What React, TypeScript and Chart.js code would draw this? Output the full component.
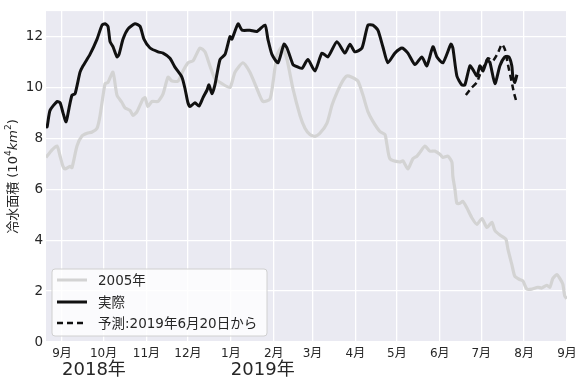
import React, { useEffect, useRef } from 'react';
import { Chart, registerables } from 'chart.js';

Chart.register(...registerables);

const FONT = "'DejaVu Sans', 'Noto Sans CJK JP', sans-serif";
const TEXT = '#262626';

// x values: days since 2018-09-01
const refDays = [-11.6,-7.2,-3.6,-1.4,0.7,2.2,5.8,7.2,10.8,14.5,18.1,21.7,25.3,27.5,31.1,33.2,36.8,39.7,43.4,45.5,49.1,51.3,54.2,58.5,60,62.1,65,69.4,73,76.6,79.5,83.8,87.4,91,94.7,99.7,103.3,106.9,110.5,115.6,121.4,125,130.8,135.8,140.9,145.2,150.3,152.5,155.3,159,162.6,166.9,172,175.6,179.2,182.8,186.4,191.5,195.1,198.7,203,205.9,209.5,213.9,217.5,221.1,224.7,229.8,233.4,234.8,237,244.2,246.4,250,253.6,256.5,258.7,262.3,265.9,269.5,273.1,275.3,278.9,281.8,282.5,284,285.4,287.6,289.7,292.6,296.2,299.9,303.5,307.1,310.7,312.9,316.5,320.8,322.3,325.1,327.3,330.9,333.1,336,339.6,343.9,346.8,350.4,352.6,354.8,357.7,359.8,362,363.4,364.9];
const refValues = [7.25,7.55,7.7,7.3,6.9,6.8,6.9,6.85,7.7,8.1,8.2,8.25,8.4,8.9,10.15,10.2,10.6,9.7,9.4,9.2,9.1,8.9,9.05,9.55,9.6,9.25,9.45,9.45,9.75,10.4,10.25,10.25,10.65,10.97,11.05,11.55,11.4,10.85,10.35,10.15,10.0,10.6,10.97,10.6,9.95,9.45,9.55,10.2,11.25,11.6,11.1,9.95,8.9,8.4,8.15,8.08,8.2,8.6,9.3,9.8,10.27,10.45,10.4,10.25,9.7,9.05,8.67,8.27,8.15,7.77,7.2,7.07,7.12,6.8,7.2,7.3,7.45,7.7,7.5,7.5,7.38,7.25,7.3,7.07,6.5,6.0,5.45,5.45,5.53,5.27,4.88,4.62,4.85,4.5,4.7,4.38,4.2,4.04,3.65,3.05,2.58,2.45,2.4,2.08,2.08,2.15,2.12,2.23,2.15,2.5,2.65,2.5,2.27,1.8,1.7];

const actualDays = [-11.6,-10.8,-8.7,-3.6,-1.4,0.7,2.9,5.1,7.2,9.4,13,15.2,20.2,25.3,28.9,31.1,33.2,34.7,36.8,39.7,41.2,44.1,47.7,52.7,56.4,59.2,63.6,69.4,73,78,81.6,86.7,88.9,91,92.5,96.1,99,101.9,104.8,106.2,108.4,110.5,114.2,117.8,121.4,122.8,127.2,130.1,135.8,140.9,146.7,148.8,151.7,156.1,160.4,162.6,166.9,168.4,173.4,177.7,182.8,187.9,192.2,198.7,204.5,208.1,211.7,216.8,221.1,224.7,228.3,231.9,235.5,240.6,245.7,250,255.1,260.1,263.7,268.1,271,275.3,281.1,282.5,285.4,289,291.2,294.8,297,299.9,302,304.3,307.1,309.2,312.9,316.5,320.1,323,325.1,325.9,327.3,328.8];
const actualValues = [8.5,8.45,9.1,9.45,9.4,9.0,8.65,9.2,9.7,9.75,10.6,10.85,11.3,11.9,12.45,12.5,12.4,11.8,11.6,11.2,11.3,11.9,12.3,12.5,12.4,11.9,11.55,11.4,11.35,11.15,10.8,10.4,9.95,9.4,9.25,9.4,9.27,9.6,9.9,10.1,9.75,10.1,11.1,11.3,12.0,11.9,12.5,12.25,12.25,12.2,12.45,11.9,11.3,10.97,11.7,11.55,10.9,10.85,10.75,11.1,10.65,11.35,11.2,11.8,11.35,11.7,11.4,11.55,12.45,12.45,12.25,11.6,10.97,11.35,11.55,11.35,10.9,11.2,10.85,11.6,11.2,10.97,11.7,11.55,10.45,10.1,10.1,10.85,10.7,10.45,10.85,10.65,11.05,11.0,10.15,10.85,11.2,11.2,10.85,10.4,10.2,10.5];

const forecastDays = [291.9,296.2,299.9,302,304.3,307.8,311.4,315,317.9,320.1,322.3,325.1,326.6,328.8];
const forecastValues = [9.7,10.0,10.2,10.5,10.75,11.15,11.05,11.35,11.7,11.5,10.9,10.2,9.8,9.37];

const monthTickDays = [0,30,61,91,122,153,181,212,242,273,303,334,365];
const monthTickLabels = ['9月','10月','11月','12月','1月','2月','3月','4月','5月','6月','7月','8月','9月'];
const yearLabelDays = [0, 122];
const yearLabels = ['2018年', '2019年'];
const yTicks = [0, 2, 4, 6, 8, 10, 12];
const seriesLabels = ['2005年', '実際', '予測:2019年6月20日から'];
// y-axis title pieces: [text, style] where style n = normal, s = superscript, i = italic
const yTitleParts: [string, string][] = [['冷水面積 (10', 'n'], ['4', 's'], ['km', 'i'], ['2', 's'], [')', 'n']];

const toPoints = (xs: number[], ys: number[]) => xs.map((x, i) => ({ x, y: ys[i] }));

const bgPlugin = {
  id: 'bgPlugin',
  beforeDraw(chart: any) {
    const { ctx, chartArea } = chart;
    ctx.save();
    ctx.fillStyle = '#EAEAF2';
    ctx.fillRect(chartArea.left, chartArea.top, chartArea.right - chartArea.left, chartArea.bottom - chartArea.top);
    ctx.restore();
  },
};

const textPlugin = {
  id: 'textPlugin',
  afterDraw(chart: any) {
    const { ctx, chartArea } = chart;
    const xs = chart.scales.x;
    ctx.save();
    ctx.font = `18px ${FONT}`;
    ctx.fillStyle = TEXT;
    ctx.textAlign = 'left';
    ctx.textBaseline = 'alphabetic';
    yearLabelDays.forEach((d, i) => {
      ctx.fillText(yearLabels[i], xs.getPixelForValue(d), chartArea.bottom + 33);
    });
    ctx.restore();

    // y title with superscripts and italic
    const size = 13;
    const fontFor = (st: string) =>
      st === 's' ? `${size * 0.7}px ${FONT}` : st === 'i' ? `italic ${size}px ${FONT}` : `${size}px ${FONT}`;
    ctx.save();
    let total = 0;
    const widths = yTitleParts.map(([t, st]) => {
      ctx.font = fontFor(st);
      const w = ctx.measureText(t).width;
      total += w;
      return w;
    });
    const cy = (chartArea.top + chartArea.bottom) / 2;
    ctx.translate(17, cy);
    ctx.rotate(-Math.PI / 2);
    ctx.fillStyle = TEXT;
    ctx.textAlign = 'left';
    ctx.textBaseline = 'alphabetic';
    let x = -total / 2;
    yTitleParts.forEach(([t, st], i) => {
      ctx.font = fontFor(st);
      ctx.fillText(t, x, st === 's' ? -size * 0.45 : 0);
      x += widths[i];
    });
    ctx.restore();
  },
};

const legendPlugin = {
  id: 'legendPlugin',
  afterDatasetsDraw(chart: any) {
    const { ctx, chartArea } = chart;
    const w = 215, h = 67;
    const x0 = chartArea.left + 6;
    const y0 = chartArea.bottom - 6 - h;
    ctx.save();
    ctx.beginPath();
    const r = 3;
    ctx.moveTo(x0 + r, y0);
    ctx.arcTo(x0 + w, y0, x0 + w, y0 + h, r);
    ctx.arcTo(x0 + w, y0 + h, x0, y0 + h, r);
    ctx.arcTo(x0, y0 + h, x0, y0, r);
    ctx.arcTo(x0, y0, x0 + w, y0, r);
    ctx.closePath();
    ctx.fillStyle = 'rgba(255,255,255,0.8)';
    ctx.fill();
    ctx.strokeStyle = '#d0d0d0';
    ctx.lineWidth = 1;
    ctx.stroke();
    const styles = [
      { color: '#d3d3d3', width: 3, dash: [] as number[] },
      { color: '#111111', width: 3, dash: [] as number[] },
      { color: '#111111', width: 2.5, dash: [6, 4] },
    ];
    const rows = [11, 33, 54];
    ctx.font = `13.5px ${FONT}`;
    ctx.textBaseline = 'middle';
    ctx.textAlign = 'left';
    seriesLabels.forEach((lab, i) => {
      const y = y0 + rows[i];
      ctx.beginPath();
      ctx.setLineDash(styles[i].dash);
      ctx.strokeStyle = styles[i].color;
      ctx.lineWidth = styles[i].width;
      ctx.moveTo(x0 + 5, y);
      ctx.lineTo(x0 + 35, y);
      ctx.stroke();
      ctx.setLineDash([]);
      ctx.fillStyle = TEXT;
      ctx.fillText(lab, x0 + 46, y + 1);
    });
    ctx.restore();
  },
};

export default function App() {
  const ref = useRef<HTMLCanvasElement>(null);
  useEffect(() => {
    if (!ref.current) return;
    const chart = new Chart(ref.current, {
      type: 'line',
      data: {
        datasets: [
          {
            label: seriesLabels[2],
            data: toPoints(forecastDays, forecastValues),
            borderColor: '#111111',
            borderWidth: 2.5,
            borderDash: [6, 4],
            pointRadius: 0,
            tension: 0.2,
            order: 1,
          },
          {
            label: seriesLabels[1],
            data: toPoints(actualDays, actualValues),
            borderColor: '#111111',
            borderWidth: 3,
            pointRadius: 0,
            tension: 0.2,
            order: 2,
          },
          {
            label: seriesLabels[0],
            data: toPoints(refDays, refValues),
            borderColor: '#d3d3d3',
            borderWidth: 3.2,
            pointRadius: 0,
            tension: 0.2,
            order: 3,
          },
        ],
      },
      options: {
        animation: false,
        responsive: false,
        layout: { padding: { top: 4, right: 15, left: 0, bottom: 0 } },
        plugins: { legend: { display: false }, tooltip: { enabled: false } },
        scales: {
          x: {
            type: 'linear',
            min: -11.6,
            max: 365,
            border: { display: false },
            grid: { color: '#ffffff', lineWidth: 1.3, drawTicks: false },
            afterBuildTicks: (s: any) => {
              s.ticks = monthTickDays.map((v) => ({ value: v }));
            },
            afterFit: (s: any) => {
              s.height = 38;
            },
            ticks: {
              autoSkip: false,
              maxRotation: 0,
              padding: 5,
              color: TEXT,
              font: { family: FONT, size: 12 },
              callback: (v: any) => {
                const i = monthTickDays.indexOf(Number(v));
                return i >= 0 ? monthTickLabels[i] : '';
              },
            },
          },
          y: {
            min: 0,
            max: 13,
            border: { display: false },
            grid: { color: '#ffffff', lineWidth: 1.3, drawTicks: false },
            afterBuildTicks: (s: any) => {
              s.ticks = yTicks.map((v) => ({ value: v }));
            },
            afterFit: (s: any) => {
              s.width = 46;
            },
            ticks: {
              padding: 3,
              color: TEXT,
              font: { family: FONT, size: 13.5 },
            },
          },
        },
      },
      plugins: [bgPlugin, textPlugin, legendPlugin],
    });
    return () => chart.destroy();
  }, []);
  return (
    <div style={{ position: 'fixed', left: 0, top: 0, width: 582, height: 380, background: '#fff' }}>
      <canvas ref={ref} width={582} height={380} />
    </div>
  );
}
